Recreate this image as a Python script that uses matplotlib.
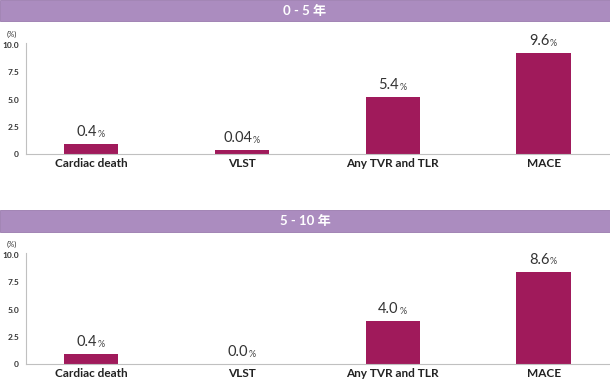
import matplotlib
matplotlib.use("Agg")
import matplotlib.pyplot as plt
from matplotlib.patches import Rectangle

plt.rcParams["font.family"] = ["Lato", "Noto Sans CJK JP", "DejaVu Sans"]

categories = ["Cardiac death", "VLST", "Any TVR and TLR", "MACE"]
headers = ["0 - 5 年", "5 - 10 年"]
# bar heights as drawn in the picture
heights_0_5 = [0.92, 0.37, 5.25, 9.27]
heights_5_10 = [0.92, 0.0, 3.95, 8.5]
# printed value labels
labels_0_5 = ["0.4", "0.04", "5.4", "9.6"]
labels_5_10 = ["0.4", "0.0", "4.0", "8.6"]
yticks = [0, 2.5, 5.0, 7.5, 10.0]
ytick_labels = ["0", "2.5", "5.0", "7.5", "10.0"]

BAR = "#a01a5b"
HEAD = "#ab8cbf"
W, H = 610, 384

fig = plt.figure(figsize=(W / 100, H / 100), dpi=100)


def fx(px):
    return px / W


def fy(py):
    return 1 - py / H


def header(y0, y1, text):
    fig.patches.append(Rectangle((0, fy(y1)), 1, (y1 - y0) / H, transform=fig.transFigure,
                                 facecolor=HEAD, edgecolor="#9a7aae", linewidth=0.6))
    fig.text(0.5, fy((y0 + y1) / 2), text, color="white", fontsize=9.5, fontweight="bold",
             ha="center", va="center")


def panel(top_px, zero_px, heights, labels):
    ax = fig.add_axes([fx(26), fy(zero_px), fx(584), (zero_px - top_px) / H])
    x = range(len(categories))
    ax.bar(x, heights, width=0.36, color=BAR)
    ax.set_xlim(-0.43, 3.44)
    ax.set_ylim(0, 10.2)
    ax.set_yticks(yticks)
    ax.set_yticklabels(ytick_labels)
    ax.set_xticks(list(x))
    ax.set_xticklabels(categories, fontsize=8.5, fontweight="bold", color="#222222")
    ax.tick_params(axis="y", length=0, pad=5, labelsize=6, labelcolor="#333333")
    ax.tick_params(axis="x", length=0, pad=3)
    for lbl in ax.get_yticklabels():
        lbl.set_fontweight("bold")
    for s in ["top", "right"]:
        ax.spines[s].set_visible(False)
    for s in ["left", "bottom"]:
        ax.spines[s].set_color("#c0c0c0")
        ax.spines[s].set_linewidth(0.8)
    for i, (h, lab) in enumerate(zip(heights, labels)):
        t = ax.annotate(lab, (i, h), xytext=(-3, 3.5), textcoords="offset points",
                        ha="center", va="bottom", fontsize=10.5, color="#333333")
        ax.annotate("%", xy=(1, 0), xycoords=t, xytext=(0.3, 0.3), textcoords="offset points",
                    ha="left", va="bottom", fontsize=6.5, color="#444444")
    fig.text(fx(12), fy(top_px - 9), "(%)", fontsize=5.5, color="#333333", ha="center", va="center")
    return ax


header(0, 21, headers[0])
panel(43, 154, heights_0_5, labels_0_5)
header(210, 232, headers[1])
panel(253, 364, heights_5_10, labels_5_10)

fig.savefig("out.png", dpi=100)
